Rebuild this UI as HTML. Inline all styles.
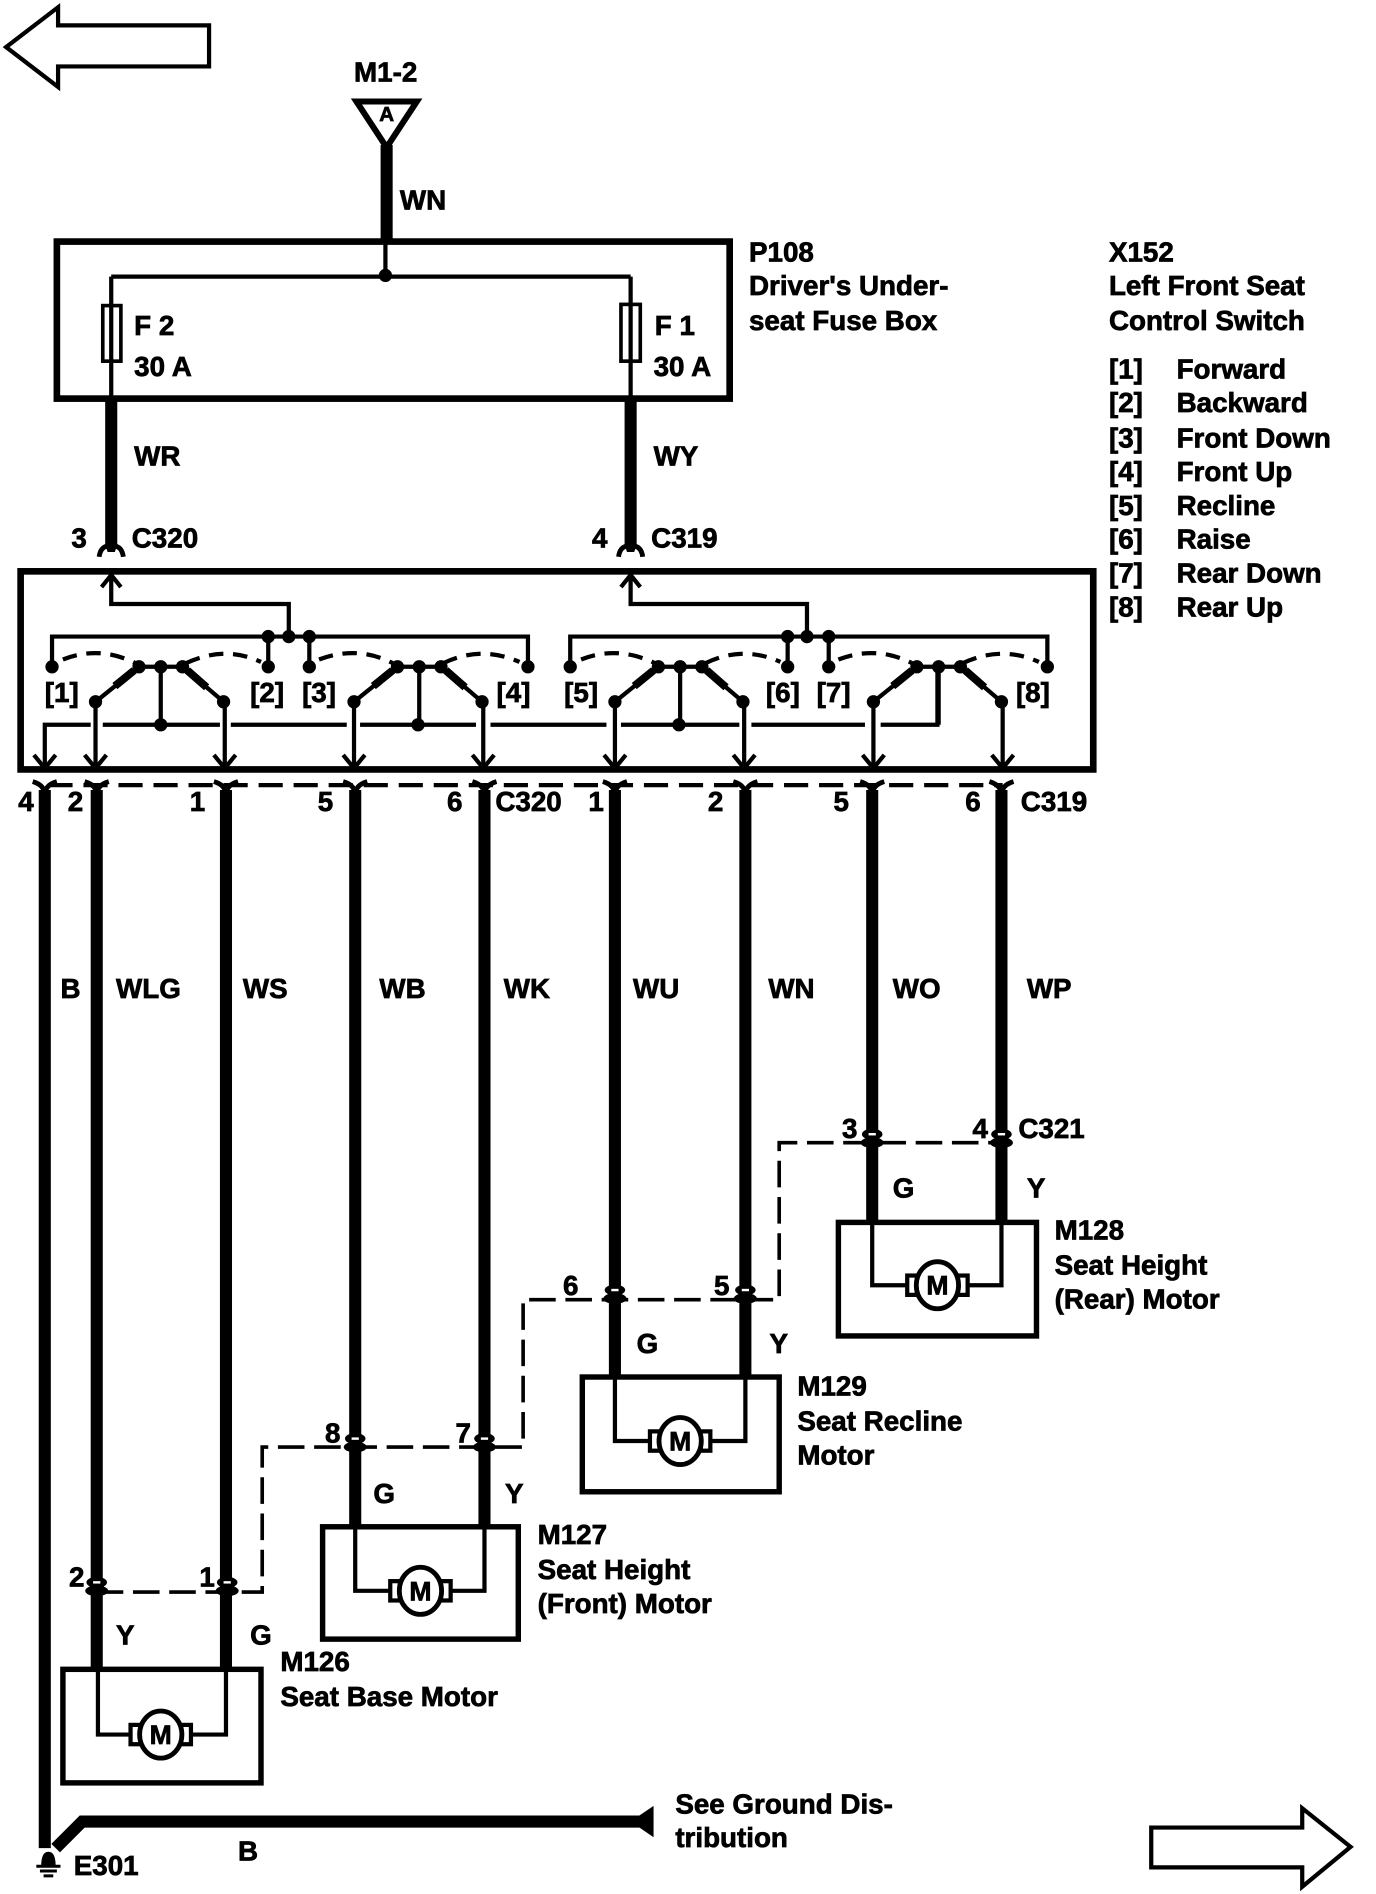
<!DOCTYPE html>
<html><head><meta charset="utf-8"><style>
html,body{margin:0;padding:0;background:#fff}
svg{display:block}
text{font-family:"Liberation Sans",sans-serif;font-weight:bold;font-size:23px;fill:#000;stroke:#000;stroke-width:.6;transform:translateY(-.7px)}
.t{fill:none;stroke:#000;stroke-width:3.5}
.b{fill:none;stroke:#000;stroke-width:5.5}
.w{fill:none;stroke:#000;stroke-width:10}
.m{fill:none;stroke:#000;stroke-width:4.5}
.d{fill:none;stroke:#000;stroke-width:3;stroke-dasharray:22 8}
</style></head><body>
<svg width="1376" height="1894" viewBox="0 0 1139 1568" xmlns="http://www.w3.org/2000/svg">
<defs>
<g id="dn"><path class="t" d="M-9,-11L0,0L9,-11"/></g>
<g id="fk"><path d="M-10,10Q-9,2 -3,1H3Q9,2 10,10" fill="none" stroke="#000" stroke-width="4"/><path d="M-5,0H5L3,6H-3Z" fill="#000"/></g>
<g id="cn"><ellipse cx="0" cy="-4" rx="8.5" ry="4.5" fill="#000"/><rect x="-3" y="-5" width="6" height="2" fill="#fff"/><ellipse cx="0" cy="3" rx="9.5" ry="4.5" fill="#000"/></g>
<g id="mt"><rect x="-25" y="-8" width="8" height="16" fill="#fff" stroke="#000" stroke-width="3.5"/><rect x="17" y="-8" width="8" height="16" fill="#fff" stroke="#000" stroke-width="3.5"/><ellipse rx="17.5" ry="19.5" fill="#fff" stroke="#000" stroke-width="4"/><text x="0" y="8.5" text-anchor="middle" style="font-size:22px">M</text></g>
<g id="sw">
<path class="t" d="M0,29L36,0M106,29L72,0"/>
<path fill="none" stroke="#000" stroke-width="6.5" d="M16,16L32,3M76,3L92,17"/>
<path class="t" d="M36,0H72M54,0V48"/>
<circle cx="36" cy="0" r="5.5"/><circle cx="54" cy="0" r="5.5"/><circle cx="72" cy="0" r="5.5"/><circle cx="0" cy="29" r="5.5"/><circle cx="106" cy="29" r="5.5"/>
</g>
</defs>

<!-- direction arrows -->
<polygon points="5,39 48,6 48,21 173,21 173,55 48,55 48,72" fill="#fff" stroke="#000" stroke-width="3.5"/>
<polygon points="953,1513 1078,1513 1078,1497 1118,1529 1078,1562 1078,1546 953,1546" fill="#fff" stroke="#000" stroke-width="3.5"/>

<!-- source -->
<text x="293" y="68">M1-2</text>
<polygon points="295,84 345,84 320,122" fill="#fff" stroke="#000" stroke-width="5"/>
<text x="320" y="101" text-anchor="middle" style="font-size:17px">A</text>
<path class="w" d="M320,120V199"/>
<text x="331" y="174">WN</text>

<!-- fuse box -->
<rect x="47" y="200" width="557" height="130" class="b"/>
<path class="t" d="M319,199V229M92,229H522M92,229V330M522,229V330"/>
<circle cx="319" cy="228" r="5.5"/>
<rect x="85" y="253" width="15" height="46" fill="#fff" stroke="#000" stroke-width="3"/><path class="t" d="M92,253V299" />
<rect x="514" y="252" width="16" height="47" fill="#fff" stroke="#000" stroke-width="3"/><path class="t" d="M522,252V299"/>
<text x="111" y="278">F 2</text><text x="111" y="312">30 A</text>
<text x="542" y="278">F 1</text><text x="541" y="312">30 A</text>
<text x="620" y="217">P108</text><text x="620" y="245">Driver's Under-</text><text x="620" y="274">seat Fuse Box</text>

<path class="w" d="M92,330V453M522,330V453"/>
<use href="#fk" x="92" y="451"/><use href="#fk" x="522" y="451"/>
<text x="111" y="386">WR</text><text x="541" y="386">WY</text>
<text x="59" y="454">3</text><text x="109" y="454">C320</text>
<text x="490" y="454">4</text><text x="539" y="454">C319</text>

<!-- switch legend -->
<text x="918" y="217">X152</text><text x="918" y="245">Left Front Seat</text><text x="918" y="274">Control Switch</text>
<text x="918" y="314">[1]</text><text x="974" y="314">Forward</text>
<text x="918" y="342">[2]</text><text x="974" y="342">Backward</text>
<text x="918" y="371">[3]</text><text x="974" y="371">Front Down</text>
<text x="918" y="399">[4]</text><text x="974" y="399">Front Up</text>
<text x="918" y="427">[5]</text><text x="974" y="427">Recline</text>
<text x="918" y="455">[6]</text><text x="974" y="455">Raise</text>
<text x="918" y="483">[7]</text><text x="974" y="483">Rear Down</text>
<text x="918" y="511">[8]</text><text x="974" y="511">Rear Up</text>

<!-- switch box -->
<rect x="17" y="473" width="888" height="164" class="b"/>
<path class="t" d="M92,476V500H239V527M84,486L92,476L100,486"/>
<path class="t" d="M522,476V500H668V527M514,486L522,476L530,486"/>
<path class="t" d="M43,552V527H437V552M222,527V552M256,527V552"/>
<path class="t" d="M472,552V527H867V552M652,527V552M686,527V552"/>
<g>
<circle cx="43" cy="552" r="5.5"/><circle cx="222" cy="527" r="5.5"/><circle cx="239" cy="527" r="5.5"/><circle cx="256" cy="527" r="5.5"/><circle cx="222" cy="552" r="5.5"/><circle cx="256" cy="552" r="5.5"/><circle cx="437" cy="552" r="5.5"/>
<circle cx="472" cy="552" r="5.5"/><circle cx="652" cy="527" r="5.5"/><circle cx="668" cy="527" r="5.5"/><circle cx="686" cy="527" r="5.5"/><circle cx="652" cy="552" r="5.5"/><circle cx="686" cy="552" r="5.5"/><circle cx="867" cy="552" r="5.5"/>
</g>
<g fill="none" stroke="#000" stroke-width="3.5" stroke-dasharray="12 8">
<path d="M52,546Q82,534 112,549"/><path d="M154,549Q186,534 216,548"/>
<path d="M264,546Q296,534 325,549"/><path d="M367,549Q398,534 430,548"/>
<path d="M481,546Q511,534 542,549"/><path d="M584,549Q615,534 646,548"/>
<path d="M694,546Q725,534 755,549"/><path d="M797,549Q829,534 860,548"/>
</g>
<use href="#sw" x="79" y="552"/><use href="#sw" x="293" y="552"/>
<use href="#sw" x="509" y="552"/><use href="#sw" x="723" y="552"/>
<circle cx="133" cy="600" r="5.5"/><circle cx="346" cy="600" r="5.5"/><circle cx="562" cy="600" r="5.5"/>
<path class="t" d="M37,636V600H75M85,600H182M191,600H287M298,600H394M406,600H502M514,600H612M622,600H716M729,600H776V552"/>
<path class="t" d="M79,581V636M186,581V636M293,581V636M400,581V636M509,581V636M616,581V636M723,581V636M830,581V636"/>
<use href="#dn" x="37" y="636"/><use href="#dn" x="79" y="636"/><use href="#dn" x="186" y="636"/><use href="#dn" x="293" y="636"/><use href="#dn" x="400" y="636"/><use href="#dn" x="509" y="636"/><use href="#dn" x="616" y="636"/><use href="#dn" x="723" y="636"/><use href="#dn" x="830" y="636"/>
<text x="37" y="582">[1]</text><text x="207" y="582">[2]</text><text x="250" y="582">[3]</text><text x="411" y="582">[4]</text>
<text x="467" y="582">[5]</text><text x="634" y="582">[6]</text><text x="676" y="582">[7]</text><text x="841" y="582">[8]</text>

<!-- lower connector row -->
<path fill="none" stroke="#000" stroke-width="3.5" stroke-dasharray="20 9" d="M40,650H830"/>
<g fill="none" stroke="#000" stroke-width="4">
<path d="M27,647Q37,650 37,658Q37,650 47,647M70,647Q80,650 80,658Q80,650 90,647M177,647Q187,650 187,658Q187,650 197,647M284,647Q294,650 294,658Q294,650 304,647M391,647Q401,650 401,658Q401,650 411,647M499,647Q509,650 509,658Q509,650 519,647M607,647Q617,650 617,658Q617,650 627,647M712,647Q722,650 722,658Q722,650 732,647M819,647Q829,650 829,658Q829,650 839,647"/>
</g>
<path class="w" d="M37,654V1530M80,654V1382M187,654V1382M294,654V1264M401,654V1264M509,654V1140M617,654V1140M722,654V1012M829,654V1012"/>
<text x="15" y="672">4</text><text x="56" y="672">2</text><text x="157" y="672">1</text><text x="263" y="672">5</text><text x="370" y="672">6</text><text x="410" y="672">C320</text>
<text x="487" y="672">1</text><text x="586" y="672">2</text><text x="690" y="672">5</text><text x="799" y="672">6</text><text x="845" y="672">C319</text>
<text x="50" y="827">B</text><text x="96" y="827">WLG</text><text x="201" y="827">WS</text><text x="314" y="827">WB</text><text x="417" y="827">WK</text><text x="524" y="827">WU</text><text x="636" y="827">WN</text><text x="739" y="827">WO</text><text x="850" y="827">WP</text>

<!-- shield -->
<path class="d" d="M80,1318H217V1198H433V1076H645V946H829"/>
<use href="#cn" x="722" y="943"/><use href="#cn" x="829" y="943"/>
<use href="#cn" x="509" y="1072"/><use href="#cn" x="617" y="1072"/>
<use href="#cn" x="294" y="1195"/><use href="#cn" x="401" y="1195"/>
<use href="#cn" x="80" y="1314"/><use href="#cn" x="188" y="1314"/>

<!-- motors -->
<rect x="694" y="1012" width="164" height="94" class="m"/>
<rect x="482" y="1140" width="163" height="95" class="m"/>
<rect x="267" y="1264" width="162" height="93" class="m"/>
<rect x="52" y="1382" width="164" height="94" class="m"/>
<path class="t" d="M722,1012V1064H829V1012M509,1140V1193H617V1140M294,1264V1317H401V1264M81,1382V1436H187V1382"/>
<use href="#mt" x="776" y="1064"/><use href="#mt" x="563" y="1193"/><use href="#mt" x="348" y="1317"/><use href="#mt" x="133" y="1436"/>

<text x="697" y="943">3</text><text x="805" y="943">4</text><text x="843" y="943">C321</text>
<text x="739" y="992">G</text><text x="850" y="992">Y</text>
<text x="873" y="1027">M128</text><text x="873" y="1056">Seat Height</text><text x="873" y="1084">(Rear) Motor</text>
<text x="466" y="1073">6</text><text x="591" y="1073">5</text>
<text x="527" y="1121">G</text><text x="637" y="1121">Y</text>
<text x="660" y="1156">M129</text><text x="660" y="1185">Seat Recline</text><text x="660" y="1213">Motor</text>
<text x="269" y="1195">8</text><text x="377" y="1195">7</text>
<text x="309" y="1245">G</text><text x="418" y="1245">Y</text>
<text x="445" y="1279">M127</text><text x="445" y="1308">Seat Height</text><text x="445" y="1336">(Front) Motor</text>
<text x="57" y="1314">2</text><text x="165" y="1314">1</text>
<text x="96" y="1362">Y</text><text x="207" y="1362">G</text>
<text x="232" y="1384">M126</text><text x="232" y="1413">Seat Base Motor</text>

<!-- ground -->
<path class="w" d="M46,1530L68,1508H530"/>
<polygon points="522,1508 541,1495 541,1521" fill="#000"/>
<text x="559" y="1502">See Ground Dis-</text><text x="559" y="1530">tribution</text>
<text x="197" y="1541">B</text>
<text x="61" y="1553">E301</text>
<path d="M34,1545Q34,1533 40,1533Q46,1533 46,1545Z" fill="#000"/>
<path d="M30,1545H50M33,1549H47M36,1553H44" stroke="#000" stroke-width="2.5" fill="none"/>
</svg>
</body></html>
